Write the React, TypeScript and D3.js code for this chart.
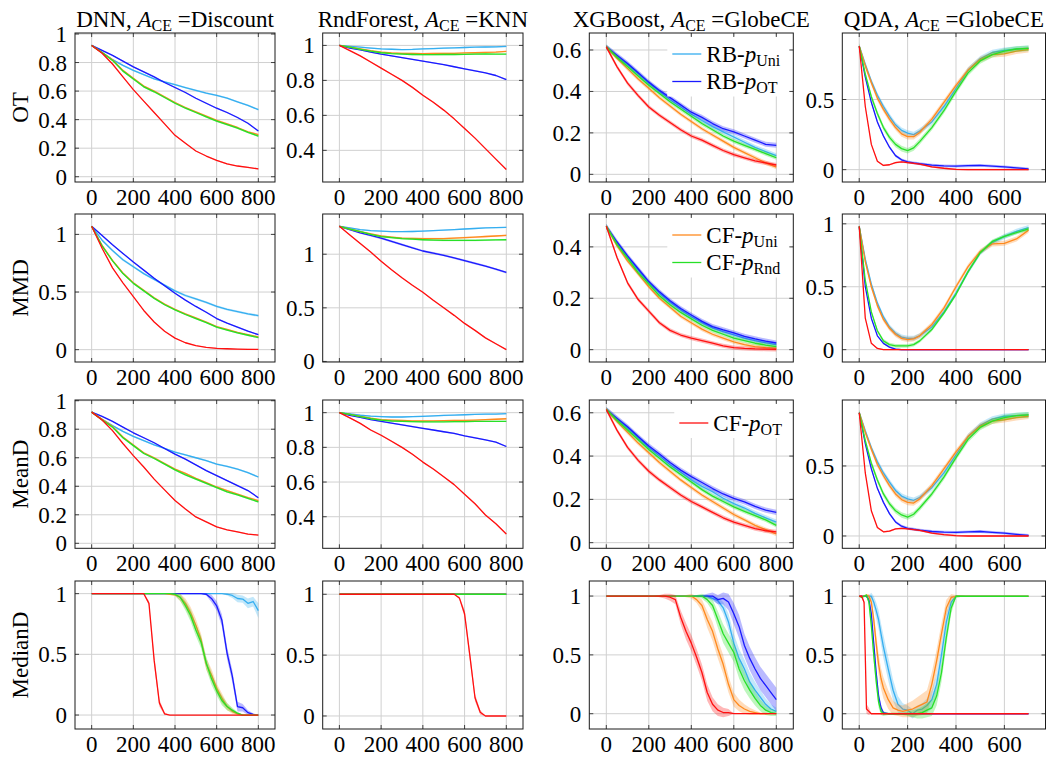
import React from "react";
import * as d3 from "d3";

// ---------------- data ----------------
const X50 = [0, 50, 100, 150, 200, 250, 300, 350, 400, 450, 500, 550, 600, 650, 700, 750, 800];
const X25 = [0, 25, 50, 75, 100, 125, 150, 175, 200, 225, 250, 275, 300, 325, 350, 375, 400, 425, 450, 475, 500, 525, 550, 575, 600, 625, 650, 675, 700, 725, 750, 775, 800];
const XQ = [0, 25, 50, 75, 100, 125, 150, 175, 200, 225, 250, 300, 350, 400, 450, 500, 550, 600, 650, 700];
const XQM = [0, 10, 20, 30, 40, 50, 60, 70, 80, 90, 100, 120, 140, 160, 180, 200, 220, 240, 260, 280, 300, 320, 340, 360, 380, 400, 450, 500, 550, 600, 650, 700];

const seriesMain = ["RB-", "RB-", "CF-", "CF-", "CF-"];
const seriesSub = ["Uni", "OT", "Uni", "Rnd", "OT"];
const seriesColors = ["#35aef0", "#1a1aff", "#ff8a1e", "#28e028", "#ff1010"];

const modelNames = ["DNN", "RndForest", "XGBoost", "QDA"];
const ceNames = ["Discount", "KNN", "GlobeCE", "GlobeCE"];
const metricNames = ["OT", "MMD", "MeanD", "MedianD"];
const xTicks800 = [0, 200, 400, 600, 800];
const xTicks700 = [0, 200, 400, 600];

// Row 1: OT
const dnnOT = [
  [0.92, 0.87, 0.82, 0.78, 0.745, 0.715, 0.685, 0.665, 0.645, 0.625, 0.605, 0.585, 0.57, 0.55, 0.525, 0.5, 0.47],
  [0.92, 0.885, 0.85, 0.81, 0.77, 0.735, 0.7, 0.66, 0.625, 0.59, 0.55, 0.515, 0.48, 0.45, 0.415, 0.375, 0.32],
  [0.92, 0.87, 0.82, 0.745, 0.69, 0.635, 0.6, 0.56, 0.52, 0.485, 0.455, 0.425, 0.395, 0.37, 0.345, 0.315, 0.295],
  [0.92, 0.87, 0.815, 0.74, 0.685, 0.63, 0.595, 0.555, 0.515, 0.48, 0.45, 0.42, 0.39, 0.365, 0.34, 0.31, 0.285],
  [0.92, 0.865, 0.79, 0.7, 0.61, 0.53, 0.45, 0.37, 0.29, 0.235, 0.18, 0.145, 0.115, 0.09, 0.075, 0.065, 0.055],
];
const dnnOTErr = [0.006, 0.005, 0.006, 0.006, 0.004];

const rfOT = [
  [1.0, 0.995, 0.99, 0.985, 0.98, 0.978, 0.976, 0.977, 0.98, 0.982, 0.984, 0.986, 0.988, 0.99, 0.991, 0.992, 0.994],
  [1.0, 0.985, 0.975, 0.962, 0.95, 0.94, 0.93, 0.92, 0.91, 0.9, 0.89, 0.878, 0.866, 0.855, 0.843, 0.828, 0.805],
  [1.0, 0.99, 0.98, 0.97, 0.962, 0.957, 0.955, 0.954, 0.953, 0.954, 0.955, 0.955, 0.957, 0.958, 0.96, 0.962, 0.966],
  [1.0, 0.99, 0.978, 0.967, 0.958, 0.953, 0.95, 0.948, 0.947, 0.947, 0.948, 0.948, 0.949, 0.95, 0.951, 0.95, 0.95],
  [1.0, 0.97, 0.94, 0.905, 0.87, 0.835, 0.8, 0.76, 0.715, 0.675, 0.63, 0.58, 0.525, 0.47, 0.41, 0.35, 0.29],
];
const rfOTErr = [0.004, 0.004, 0.004, 0.004, 0.004];

const xgbOT = [
  [0.615, 0.57, 0.53, 0.485, 0.44, 0.4, 0.36, 0.325, 0.29, 0.26, 0.23, 0.205, 0.18, 0.155, 0.13, 0.11, 0.09],
  [0.615, 0.575, 0.535, 0.49, 0.445, 0.405, 0.37, 0.335, 0.3, 0.275, 0.245, 0.22, 0.205, 0.185, 0.165, 0.145, 0.14],
  [0.615, 0.56, 0.51, 0.46, 0.415, 0.37, 0.33, 0.29, 0.255, 0.22, 0.19, 0.16, 0.13, 0.105, 0.08, 0.055, 0.035],
  [0.615, 0.565, 0.52, 0.475, 0.43, 0.39, 0.35, 0.315, 0.28, 0.245, 0.215, 0.185, 0.16, 0.14, 0.12, 0.1, 0.08],
  [0.615, 0.52, 0.44, 0.38, 0.325, 0.285, 0.25, 0.215, 0.185, 0.165, 0.14, 0.115, 0.095, 0.08, 0.065, 0.055, 0.045],
];
const xgbOTErr = [0.012, 0.012, 0.01, 0.01, 0.01];

const qdaOT = [
  [0.88, 0.75, 0.63, 0.53, 0.45, 0.38, 0.32, 0.28, 0.26, 0.25, 0.275, 0.34, 0.45, 0.58, 0.71, 0.79, 0.835, 0.85, 0.86, 0.865],
  [0.88, 0.66, 0.48, 0.34, 0.24, 0.16, 0.1, 0.07, 0.055, 0.048, 0.042, 0.032, 0.027, 0.025, 0.028, 0.03, 0.025, 0.02, 0.012, 0.005],
  [0.88, 0.74, 0.62, 0.51, 0.43, 0.36, 0.3, 0.255, 0.235, 0.235, 0.265, 0.36, 0.48, 0.6, 0.71, 0.785, 0.82, 0.825, 0.845, 0.855],
  [0.88, 0.68, 0.52, 0.4, 0.3, 0.23, 0.18, 0.15, 0.135, 0.155, 0.2, 0.3, 0.42, 0.56, 0.69, 0.775, 0.82, 0.845, 0.86, 0.865],
  [0.88, 0.45, 0.18, 0.06, 0.03, 0.035, 0.05, 0.055, 0.05, 0.045, 0.04, 0.02, 0.01, 0.002, 0, 0, 0, 0, 0, 0],
];
const qdaOTErr = [0.02, 0.01, 0.02, 0.02, 0.006];

// Row 2: MMD
const dnnMMD = [
  [1.07, 0.95, 0.86, 0.78, 0.72, 0.66, 0.61, 0.56, 0.51, 0.47, 0.44, 0.41, 0.375, 0.35, 0.33, 0.31, 0.295],
  [1.07, 0.99, 0.91, 0.835, 0.76, 0.69, 0.62, 0.555, 0.49, 0.43, 0.375, 0.325, 0.27, 0.23, 0.195, 0.16, 0.13],
  [1.07, 0.905, 0.775, 0.665, 0.58, 0.515, 0.45, 0.395, 0.35, 0.31, 0.275, 0.24, 0.2, 0.175, 0.15, 0.13, 0.11],
  [1.07, 0.9, 0.77, 0.66, 0.575, 0.51, 0.445, 0.39, 0.345, 0.305, 0.27, 0.235, 0.195, 0.17, 0.145, 0.125, 0.105],
  [1.07, 0.88, 0.71, 0.58, 0.46, 0.34, 0.24, 0.16, 0.1, 0.06, 0.035, 0.02, 0.012, 0.008, 0.005, 0.003, 0.002],
];
const dnnMMDErr = [0.01, 0.006, 0.006, 0.006, 0.004];

const rfMMD = [
  [1.26, 1.245, 1.23, 1.22, 1.215, 1.21, 1.21, 1.212, 1.215, 1.22, 1.225, 1.23, 1.235, 1.24, 1.245, 1.248, 1.25],
  [1.26, 1.23, 1.2, 1.175, 1.15, 1.12, 1.09, 1.06, 1.03, 1.01, 0.99, 0.965, 0.94, 0.915, 0.89, 0.86, 0.83],
  [1.26, 1.235, 1.21, 1.19, 1.17, 1.16, 1.15, 1.147, 1.145, 1.145, 1.145, 1.15, 1.155, 1.16, 1.165, 1.17, 1.175],
  [1.26, 1.235, 1.21, 1.185, 1.165, 1.155, 1.145, 1.14, 1.135, 1.132, 1.13, 1.13, 1.13, 1.13, 1.132, 1.133, 1.135],
  [1.26, 1.18, 1.1, 1.02, 0.935, 0.855, 0.78, 0.71, 0.645, 0.57, 0.5, 0.43, 0.355, 0.29, 0.22, 0.165, 0.11],
];
const rfMMDErr = [0.006, 0.01, 0.008, 0.008, 0.006];

const xgbMMD = [
  [0.48, 0.415, 0.36, 0.31, 0.26, 0.22, 0.185, 0.155, 0.128, 0.105, 0.085, 0.07, 0.058, 0.045, 0.035, 0.027, 0.02],
  [0.48, 0.42, 0.365, 0.315, 0.265, 0.225, 0.19, 0.16, 0.135, 0.11, 0.09, 0.077, 0.065, 0.052, 0.042, 0.033, 0.026],
  [0.48, 0.405, 0.345, 0.295, 0.245, 0.2, 0.165, 0.13, 0.105, 0.08, 0.06, 0.045, 0.03, 0.02, 0.012, 0.008, 0.005],
  [0.48, 0.41, 0.355, 0.3, 0.255, 0.21, 0.175, 0.145, 0.12, 0.095, 0.075, 0.06, 0.045, 0.035, 0.025, 0.018, 0.012],
  [0.48, 0.36, 0.26, 0.195, 0.15, 0.105, 0.075, 0.057, 0.045, 0.035, 0.025, 0.015, 0.008, 0.005, 0.003, 0.002, 0.001],
];
const xgbMMDErr = [0.01, 0.01, 0.008, 0.008, 0.008];

const qdaMMD = [
  [0.98, 0.72, 0.52, 0.37, 0.26, 0.18, 0.13, 0.1, 0.09, 0.09, 0.11, 0.18, 0.3, 0.45, 0.62, 0.77, 0.85, 0.9, 0.94, 0.97],
  [0.98, 0.5, 0.25, 0.11, 0.05, 0.02, 0.005, 0, 0, 0, 0, 0, 0, 0, 0, 0, 0, 0, 0, 0],
  [0.98, 0.7, 0.5, 0.35, 0.24, 0.17, 0.12, 0.09, 0.08, 0.085, 0.11, 0.2, 0.33, 0.5, 0.66, 0.78, 0.84, 0.845, 0.88, 0.95],
  [0.98, 0.55, 0.3, 0.15, 0.07, 0.04, 0.03, 0.03, 0.03, 0.04, 0.07, 0.16, 0.29, 0.44, 0.62, 0.77, 0.86, 0.9, 0.93, 0.96],
  [0.98, 0.25, 0.05, 0.01, 0, 0, 0, 0, 0, 0, 0, 0, 0, 0, 0, 0, 0, 0, 0, 0],
];
const qdaMMDErr = [0.02, 0.006, 0.02, 0.015, 0.004];

// Row 3: MeanD
const dnnMean = [
  [0.92, 0.87, 0.825, 0.785, 0.75, 0.72, 0.69, 0.665, 0.64, 0.62, 0.6, 0.58, 0.555, 0.54, 0.52, 0.495, 0.465],
  [0.92, 0.89, 0.855, 0.815, 0.775, 0.74, 0.705, 0.665, 0.625, 0.59, 0.55, 0.51, 0.475, 0.44, 0.405, 0.37, 0.32],
  [0.92, 0.87, 0.82, 0.745, 0.69, 0.635, 0.6, 0.56, 0.52, 0.49, 0.455, 0.425, 0.395, 0.37, 0.345, 0.32, 0.3],
  [0.92, 0.865, 0.815, 0.74, 0.685, 0.63, 0.595, 0.555, 0.515, 0.48, 0.45, 0.42, 0.39, 0.36, 0.34, 0.315, 0.29],
  [0.92, 0.865, 0.79, 0.7, 0.615, 0.535, 0.45, 0.375, 0.3, 0.24, 0.185, 0.15, 0.115, 0.095, 0.08, 0.065, 0.058],
];
const dnnMeanErr = [0.006, 0.005, 0.006, 0.006, 0.004];

const rfMean = [
  [1.0, 0.993, 0.985, 0.98, 0.977, 0.975, 0.975, 0.977, 0.979, 0.981, 0.984, 0.986, 0.988, 0.99, 0.991, 0.992, 0.994],
  [1.0, 0.985, 0.973, 0.96, 0.95, 0.94, 0.93, 0.92, 0.91, 0.9, 0.89, 0.88, 0.866, 0.855, 0.843, 0.83, 0.805],
  [1.0, 0.99, 0.978, 0.968, 0.96, 0.957, 0.955, 0.953, 0.952, 0.953, 0.954, 0.955, 0.955, 0.957, 0.96, 0.962, 0.965],
  [1.0, 0.99, 0.977, 0.965, 0.957, 0.952, 0.95, 0.948, 0.947, 0.947, 0.947, 0.948, 0.948, 0.95, 0.95, 0.95, 0.95],
  [1.0, 0.97, 0.938, 0.9, 0.87, 0.835, 0.8, 0.76, 0.715, 0.675, 0.63, 0.585, 0.53, 0.475, 0.41, 0.36, 0.3],
];
const rfMeanErr = [0.004, 0.004, 0.004, 0.004, 0.004];

const xgbMean = [
  [0.615, 0.57, 0.53, 0.485, 0.44, 0.4, 0.36, 0.325, 0.29, 0.26, 0.235, 0.205, 0.18, 0.16, 0.135, 0.115, 0.095],
  [0.615, 0.575, 0.535, 0.49, 0.447, 0.41, 0.37, 0.335, 0.305, 0.278, 0.25, 0.225, 0.205, 0.188, 0.168, 0.15, 0.14],
  [0.615, 0.56, 0.51, 0.46, 0.415, 0.37, 0.33, 0.29, 0.255, 0.22, 0.19, 0.16, 0.13, 0.105, 0.08, 0.06, 0.04],
  [0.615, 0.565, 0.52, 0.475, 0.43, 0.39, 0.35, 0.315, 0.28, 0.245, 0.215, 0.19, 0.165, 0.145, 0.125, 0.105, 0.08],
  [0.615, 0.52, 0.44, 0.38, 0.33, 0.29, 0.255, 0.22, 0.19, 0.165, 0.14, 0.115, 0.095, 0.08, 0.065, 0.055, 0.05],
];
const xgbMeanErr = [0.012, 0.012, 0.01, 0.01, 0.01];

const qdaMean = [
  [0.88, 0.75, 0.63, 0.53, 0.45, 0.385, 0.325, 0.285, 0.265, 0.255, 0.275, 0.345, 0.45, 0.58, 0.71, 0.79, 0.835, 0.855, 0.86, 0.865],
  [0.88, 0.66, 0.48, 0.34, 0.24, 0.16, 0.1, 0.07, 0.055, 0.048, 0.042, 0.032, 0.028, 0.026, 0.03, 0.032, 0.026, 0.02, 0.012, 0.005],
  [0.88, 0.74, 0.62, 0.51, 0.43, 0.36, 0.3, 0.26, 0.24, 0.235, 0.265, 0.36, 0.48, 0.6, 0.71, 0.785, 0.82, 0.83, 0.845, 0.855],
  [0.88, 0.68, 0.52, 0.4, 0.3, 0.23, 0.18, 0.15, 0.135, 0.155, 0.2, 0.3, 0.42, 0.56, 0.69, 0.775, 0.82, 0.845, 0.86, 0.865],
  [0.88, 0.45, 0.18, 0.06, 0.03, 0.035, 0.05, 0.055, 0.05, 0.045, 0.04, 0.02, 0.01, 0.002, 0, 0, 0, 0, 0, 0],
];
const qdaMeanErr = [0.02, 0.01, 0.02, 0.02, 0.006];

// Row 4: MedianD (x = X25 for first three columns, XQM for QDA)
const dnnMed = [
  [1, 1, 1, 1, 1, 1, 1, 1, 1, 1, 1, 1, 1, 1, 1, 1, 1, 1, 1, 1, 1, 1, 1, 1, 1, 1, 0.995, 0.985, 0.96, 0.955, 0.92, 0.935, 0.86],
  [1, 1, 1, 1, 1, 1, 1, 1, 1, 1, 1, 1, 1, 1, 1, 1, 1, 1, 1, 1, 1, 1, 0.995, 0.96, 0.9, 0.78, 0.51, 0.32, 0.07, 0.06, 0.02, 0.005, 0],
  [1, 1, 1, 1, 1, 1, 1, 1, 1, 1, 1, 1, 1, 1, 1, 0.995, 0.99, 0.97, 0.92, 0.84, 0.74, 0.62, 0.42, 0.33, 0.22, 0.14, 0.07, 0.03, 0.01, 0, 0, 0, 0],
  [1, 1, 1, 1, 1, 1, 1, 1, 1, 1, 1, 1, 1, 1, 1, 1, 0.995, 0.97, 0.9, 0.82, 0.7, 0.6, 0.43, 0.3, 0.2, 0.12, 0.07, 0.04, 0.015, 0, 0, 0, 0],
  [1, 1, 1, 1, 1, 1, 1, 1, 1, 1, 1, 0.92, 0.45, 0.1, 0.01, 0, 0, 0, 0, 0, 0, 0, 0, 0, 0, 0, 0, 0, 0, 0, 0, 0, 0],
];
const dnnMedErr = [
  [0, 0, 0, 0, 0, 0, 0, 0, 0, 0, 0, 0, 0, 0, 0, 0, 0, 0, 0, 0, 0, 0, 0, 0, 0, 0, 0.01, 0.02, 0.03, 0.03, 0.04, 0.04, 0.06],
  [0, 0, 0, 0, 0, 0, 0, 0, 0, 0, 0, 0, 0, 0, 0, 0, 0, 0, 0, 0, 0, 0, 0.01, 0.03, 0.04, 0.05, 0.05, 0.05, 0.04, 0.03, 0.02, 0.01, 0],
  [0, 0, 0, 0, 0, 0, 0, 0, 0, 0, 0, 0, 0, 0, 0, 0.005, 0.01, 0.03, 0.04, 0.05, 0.05, 0.05, 0.05, 0.05, 0.04, 0.04, 0.03, 0.02, 0.01, 0.005, 0, 0, 0],
  [0, 0, 0, 0, 0, 0, 0, 0, 0, 0, 0, 0, 0, 0, 0, 0, 0.01, 0.03, 0.04, 0.05, 0.05, 0.05, 0.05, 0.05, 0.04, 0.04, 0.03, 0.02, 0.01, 0.005, 0, 0, 0],
  [0, 0, 0, 0, 0, 0, 0, 0, 0, 0, 0, 0.02, 0.04, 0.03, 0.01, 0, 0, 0, 0, 0, 0, 0, 0, 0, 0, 0, 0, 0, 0, 0, 0, 0, 0],
];

const rfMed = [
  [1, 1, 1, 1, 1, 1, 1, 1, 1, 1, 1, 1, 1, 1, 1, 1, 1, 1, 1, 1, 1, 1, 1, 1, 1, 1, 1, 1, 1, 1, 1, 1, 1],
  [1, 1, 1, 1, 1, 1, 1, 1, 1, 1, 1, 1, 1, 1, 1, 1, 1, 1, 1, 1, 1, 1, 1, 1, 1, 1, 1, 1, 1, 1, 1, 1, 1],
  [1, 1, 1, 1, 1, 1, 1, 1, 1, 1, 1, 1, 1, 1, 1, 1, 1, 1, 1, 1, 1, 1, 1, 1, 1, 1, 1, 1, 1, 1, 1, 1, 1],
  [1, 1, 1, 1, 1, 1, 1, 1, 1, 1, 1, 1, 1, 1, 1, 1, 1, 1, 1, 1, 1, 1, 1, 1, 1, 1, 1, 1, 1, 1, 1, 1, 1],
  [1, 1, 1, 1, 1, 1, 1, 1, 1, 1, 1, 1, 1, 1, 1, 1, 1, 1, 1, 1, 1, 1, 1, 0.97, 0.84, 0.5, 0.15, 0.03, 0, 0, 0, 0, 0],
];
const rfMedErr = [
  0, 0, 0, 0,
  [0, 0, 0, 0, 0, 0, 0, 0, 0, 0, 0, 0, 0, 0, 0, 0, 0, 0, 0, 0, 0, 0, 0, 0.01, 0.03, 0.04, 0.03, 0.02, 0, 0, 0, 0, 0],
];

const xgbMed = [
  [1, 1, 1, 1, 1, 1, 1, 1, 1, 1, 1, 1, 1, 1, 1, 1, 1, 1, 1, 1, 0.98, 0.96, 0.9, 0.78, 0.6, 0.47, 0.38, 0.27, 0.2, 0.14, 0.08, 0.04, 0.02],
  [1, 1, 1, 1, 1, 1, 1, 1, 1, 1, 1, 1, 1, 1, 1, 1, 1, 1, 1, 1, 1, 0.97, 0.98, 0.95, 0.85, 0.74, 0.58, 0.47, 0.38, 0.3, 0.24, 0.18, 0.12],
  [1, 1, 1, 1, 1, 1, 1, 1, 1, 1, 1, 1, 1, 1, 1, 1, 1, 0.97, 0.92, 0.8, 0.7, 0.55, 0.42, 0.25, 0.12, 0.07, 0.04, 0.02, 0.01, 0, 0, 0, 0],
  [1, 1, 1, 1, 1, 1, 1, 1, 1, 1, 1, 1, 1, 1, 1, 1, 1, 1, 1, 0.97, 0.92, 0.8, 0.68, 0.6, 0.52, 0.38, 0.28, 0.2, 0.13, 0.07, 0.03, 0.01, 0],
  [1, 1, 1, 1, 1, 1, 1, 1, 1, 1, 1, 1, 0.99, 0.97, 0.82, 0.7, 0.6, 0.48, 0.35, 0.18, 0.08, 0.03, 0.01, 0.01, 0, 0, 0, 0, 0, 0, 0, 0, 0],
];
const xgbMedErr = [
  [0, 0, 0, 0, 0, 0, 0, 0, 0, 0, 0, 0, 0, 0, 0, 0, 0, 0, 0, 0.01, 0.02, 0.03, 0.05, 0.07, 0.08, 0.08, 0.08, 0.08, 0.07, 0.06, 0.05, 0.04, 0.03],
  [0, 0, 0, 0, 0, 0, 0, 0, 0, 0, 0, 0, 0, 0, 0, 0, 0, 0, 0.01, 0.02, 0.03, 0.04, 0.05, 0.07, 0.09, 0.1, 0.1, 0.1, 0.1, 0.1, 0.1, 0.1, 0.1],
  [0, 0, 0, 0, 0, 0, 0, 0, 0, 0, 0, 0, 0, 0, 0, 0.01, 0.02, 0.03, 0.05, 0.07, 0.08, 0.08, 0.08, 0.07, 0.06, 0.05, 0.04, 0.03, 0.02, 0.01, 0.01, 0, 0],
  [0, 0, 0, 0, 0, 0, 0, 0, 0, 0, 0, 0, 0, 0, 0, 0, 0, 0.01, 0.02, 0.03, 0.05, 0.07, 0.08, 0.08, 0.08, 0.08, 0.08, 0.07, 0.06, 0.05, 0.04, 0.03, 0.02],
  [0, 0, 0, 0, 0, 0, 0, 0, 0, 0, 0.01, 0.02, 0.03, 0.04, 0.06, 0.07, 0.07, 0.07, 0.07, 0.07, 0.06, 0.05, 0.04, 0.03, 0, 0, 0, 0, 0, 0, 0, 0, 0],
];

const qdaMed = [
  [1, 1, 1, 1, 1, 1, 0.95, 0.88, 0.8, 0.68, 0.57, 0.38, 0.2, 0.08, 0.04, 0.03, 0, 0.03, 0.04, 0.07, 0.12, 0.25, 0.5, 0.78, 0.95, 1, 1, 1, 1, 1, 1, 1],
  [1, 1, 1, 1, 0.97, 0.85, 0.6, 0.35, 0.15, 0.05, 0.01, 0, 0, 0, 0, 0, 0, 0, 0, 0, 0, 0, 0, 0, 0, 0, 0, 0, 0, 0, 0, 0],
  [1, 1, 1, 1.01, 1, 0.95, 0.8, 0.6, 0.42, 0.3, 0.22, 0.12, 0.05, 0.03, 0.02, 0.03, 0.04, 0.06, 0.08, 0.1, 0.25, 0.45, 0.68, 0.9, 0.99, 1, 1, 1, 1, 1, 1, 1],
  [1, 0.99, 1, 1.01, 0.95, 0.75, 0.5, 0.28, 0.1, 0.02, 0, 0, 0, 0, 0, 0, 0, 0, 0.01, 0.03, 0.05, 0.15, 0.35, 0.65, 0.9, 1, 1, 1, 1, 1, 1, 1],
  [1, 1, 0.95, 0.04, 0.02, 0, 0, 0, 0, 0, 0, 0, 0, 0, 0, 0, 0, 0, 0, 0, 0, 0, 0, 0, 0, 0, 0, 0, 0, 0, 0, 0],
];
const qdaMedErr = [
  [0, 0, 0, 0, 0.01, 0.03, 0.05, 0.07, 0.08, 0.09, 0.1, 0.1, 0.09, 0.07, 0.05, 0.04, 0.04, 0.04, 0.05, 0.06, 0.08, 0.09, 0.09, 0.08, 0.05, 0.01, 0, 0, 0, 0, 0, 0],
  [0, 0, 0, 0.01, 0.02, 0.04, 0.05, 0.05, 0.04, 0.03, 0.01, 0, 0, 0, 0, 0, 0, 0, 0, 0, 0, 0, 0, 0, 0, 0, 0, 0, 0, 0, 0, 0],
  [0, 0, 0, 0.01, 0.02, 0.04, 0.06, 0.08, 0.09, 0.09, 0.09, 0.08, 0.06, 0.05, 0.05, 0.06, 0.07, 0.08, 0.09, 0.1, 0.1, 0.1, 0.09, 0.07, 0.03, 0.01, 0, 0, 0, 0, 0, 0],
  [0, 0.01, 0.01, 0.01, 0.03, 0.05, 0.06, 0.06, 0.05, 0.03, 0.02, 0.01, 0.01, 0.01, 0.01, 0.02, 0.03, 0.04, 0.05, 0.06, 0.07, 0.08, 0.08, 0.07, 0.05, 0.01, 0, 0, 0, 0, 0, 0],
  [0, 0.01, 0.02, 0.04, 0.03, 0, 0, 0, 0, 0, 0, 0, 0, 0, 0, 0, 0, 0, 0, 0, 0, 0, 0, 0, 0, 0, 0, 0, 0, 0, 0, 0],
];

// ---------------- panel table (built from the arrays above) ----------------
type Err = number | number[];
type PanelDef = { x: number[]; ys: number[][]; errs: Err[]; yDomain: [number, number]; yTicks: number[] };

const T1 = [0, 0.2, 0.4, 0.6, 0.8, 1];
const T2 = [0.4, 0.6, 0.8, 1];
const T3 = [0, 0.2, 0.4, 0.6];
const T5 = [0, 0.5];
const T51 = [0, 0.5, 1];
const T4 = [0, 0.2, 0.4];

const panels: PanelDef[][] = [
  [
    { x: X50, ys: dnnOT, errs: dnnOTErr, yDomain: [-0.037, 1.007], yTicks: T1 },
    { x: X50, ys: rfOT, errs: rfOTErr, yDomain: [0.219, 1.071], yTicks: T2 },
    { x: X50, ys: xgbOT, errs: xgbOTErr, yDomain: [-0.037, 0.682], yTicks: T3 },
    { x: XQ, ys: qdaOT, errs: qdaOTErr, yDomain: [-0.088, 0.974], yTicks: T5 },
  ],
  [
    { x: X50, ys: dnnMMD, errs: dnnMMDErr, yDomain: [-0.107, 1.177], yTicks: T51 },
    { x: X50, ys: rfMMD, errs: rfMMDErr, yDomain: [-0.005, 1.375], yTicks: T51 },
    { x: X50, ys: xgbMMD, errs: xgbMMDErr, yDomain: [-0.048, 0.528], yTicks: T4 },
    { x: XQ, ys: qdaMMD, errs: qdaMMDErr, yDomain: [-0.098, 1.078], yTicks: T51 },
  ],
  [
    { x: X50, ys: dnnMean, errs: dnnMeanErr, yDomain: [-0.035, 1.005], yTicks: T1 },
    { x: X50, ys: rfMean, errs: rfMeanErr, yDomain: [0.218, 1.073], yTicks: T2 },
    { x: X50, ys: xgbMean, errs: xgbMeanErr, yDomain: [-0.026, 0.659], yTicks: T3 },
    { x: XQ, ys: qdaMean, errs: qdaMeanErr, yDomain: [-0.088, 0.971], yTicks: T5 },
  ],
  [
    { x: X25, ys: dnnMed, errs: dnnMedErr, yDomain: [-0.115, 1.104], yTicks: T51 },
    { x: X25, ys: rfMed, errs: rfMedErr, yDomain: [-0.107, 1.109], yTicks: T51 },
    { x: X25, ys: xgbMed, errs: xgbMedErr, yDomain: [-0.13, 1.128], yTicks: T51 },
    { x: XQM, ys: qdaMed, errs: qdaMedErr, yDomain: [-0.13, 1.13], yTicks: T51 },
  ],
];

// legends: [row, col, series indices]
const legends: [number, number, number[]][] = [
  [0, 2, [0, 1]],
  [1, 2, [2, 3]],
  [2, 2, [4]],
];

// ---------------- layout ----------------
const FONT = "'Liberation Serif','Times New Roman',serif";
const FS = 23;
const SUBFS = 16;
const colL = [75, 322.7, 589.3, 842.3];
const colR = [275, 523, 793.3, 1045.5];
const rowT = [33, 214, 400, 581];
const rowB = [182, 362, 548.3, 729];
const GRID = "#d0d0d0";
const AXIS = "#1a1a1a";

const errAt = (e: Err, i: number) => (typeof e === "number" ? e : e[i]);

function PanelView({ r, c, p }: { r: number; c: number; p: PanelDef }) {
  const L = colL[c], R = colR[c], T = rowT[r], B = rowB[r];
  const xs = d3.scaleLinear().domain(c === 3 ? [-70, 770] : [-80, 880]).range([L, R]);
  const ys = d3.scaleLinear().domain(p.yDomain).range([B, T]);
  const xt = c === 3 ? xTicks700 : xTicks800;
  const id = `clip-${r}-${c}`;
  const leg = legends.find((l) => l[0] === r && l[1] === c);
  const tl = 4;
  return (
    <g>
      <defs>
        <clipPath id={id}>
          <rect x={L} y={T} width={R - L} height={B - T} />
        </clipPath>
      </defs>
      {xt.map((t) => (
        <line key={"gx" + t} x1={xs(t)} x2={xs(t)} y1={T} y2={B} stroke={GRID} strokeWidth={1} />
      ))}
      {p.yTicks.map((t) => (
        <line key={"gy" + t} x1={L} x2={R} y1={ys(t)} y2={ys(t)} stroke={GRID} strokeWidth={1} />
      ))}
      <g clipPath={`url(#${id})`}>
        {p.ys.map((vals, s) => {
          const e = p.errs[s];
          const area = d3
            .area<number>()
            .x((_, i) => xs(p.x[i]))
            .y0((v, i) => ys(v - errAt(e, i)))
            .y1((v, i) => ys(v + errAt(e, i)));
          const line = d3
            .line<number>()
            .x((_, i) => xs(p.x[i]))
            .y((v) => ys(v));
          return (
            <g key={s}>
              <path d={area(vals) || ""} fill={seriesColors[s]} fillOpacity={0.3} stroke="none" />
              <path d={line(vals) || ""} fill="none" stroke={seriesColors[s]} strokeWidth={1.3} strokeLinejoin="round" />
            </g>
          );
        })}
      </g>
      {leg && (
        <g>
          {(() => {
            const n = leg[2].length;
            const lx1 = n === 2 ? R - 121 : R - 114;
            const lx2 = lx1 + 29;
            const tx = lx2 + 5;
            const cy0 = T + (r === 2 ? 23 : 21);
            return (
              <g>
                <rect x={lx1 - 5} y={T + 3} width={R - 3 - (lx1 - 5)} height={cy0 - T - 3 + (n - 1) * 27.5 + 15} fill="#fff" />
                {leg[2].map((s, k) => {
                  const cy = cy0 + k * 27.5;
                  return (
                    <g key={s}>
                      <line x1={lx1} x2={lx2} y1={cy} y2={cy} stroke={seriesColors[s]} strokeWidth={1.3} />
                      <text x={tx} y={cy + 7.5} fontSize={FS} fill="#000">
                        {seriesMain[s]}
                        <tspan fontStyle="italic">p</tspan>
                        <tspan fontSize={SUBFS} dy={4}>{seriesSub[s]}</tspan>
                      </text>
                    </g>
                  );
                })}
              </g>
            );
          })()}
        </g>
      )}
      {xt.map((t) => (
        <g key={"tx" + t}>
          <line x1={xs(t)} x2={xs(t)} y1={B} y2={B - tl} stroke={AXIS} strokeWidth={0.8} />
          <line x1={xs(t)} x2={xs(t)} y1={T} y2={T + tl} stroke={AXIS} strokeWidth={0.8} />
          <text x={xs(t)} y={B + 23} fontSize={FS} textAnchor="middle" fill="#000">
            {String(t)}
          </text>
        </g>
      ))}
      {p.yTicks.map((t) => (
        <g key={"ty" + t}>
          <line x1={L} x2={L + tl} y1={ys(t)} y2={ys(t)} stroke={AXIS} strokeWidth={0.8} />
          <line x1={R} x2={R - tl} y1={ys(t)} y2={ys(t)} stroke={AXIS} strokeWidth={0.8} />
          <text x={L - 8} y={ys(t) + 8} fontSize={FS} textAnchor="end" fill="#000">
            {String(t)}
          </text>
        </g>
      ))}
      <rect x={L} y={T} width={R - L} height={B - T} fill="none" stroke={AXIS} strokeWidth={1} />
    </g>
  );
}

export default function App() {
  return (
    <svg
      width={1060}
      height={759}
      style={{ position: "absolute", left: 0, top: 0, display: "block" }}
      fontFamily={FONT}
    >
      <rect width={1060} height={759} fill="#fff" />
      {panels.map((row, r) => row.map((p, c) => <PanelView key={`${r}-${c}`} r={r} c={c} p={p} />))}
      {modelNames.map((m, c) => (
        <text key={"title" + c} x={(colL[c] + colR[c]) / 2} y={27} fontSize={FS} textAnchor="middle" fill="#000">
          {m + ", "}
          <tspan fontStyle="italic">A</tspan>
          <tspan fontSize={SUBFS} dy={4}>CE</tspan>
          <tspan dy={-4}>{" =" + ceNames[c]}</tspan>
        </text>
      ))}
      {metricNames.map((m, r) => (
        <text
          key={"ylab" + r}
          transform={`translate(28,${(rowT[r] + rowB[r]) / 2}) rotate(-90)`}
          fontSize={FS}
          textAnchor="middle"
          fill="#000"
        >
          {m}
        </text>
      ))}
    </svg>
  );
}
